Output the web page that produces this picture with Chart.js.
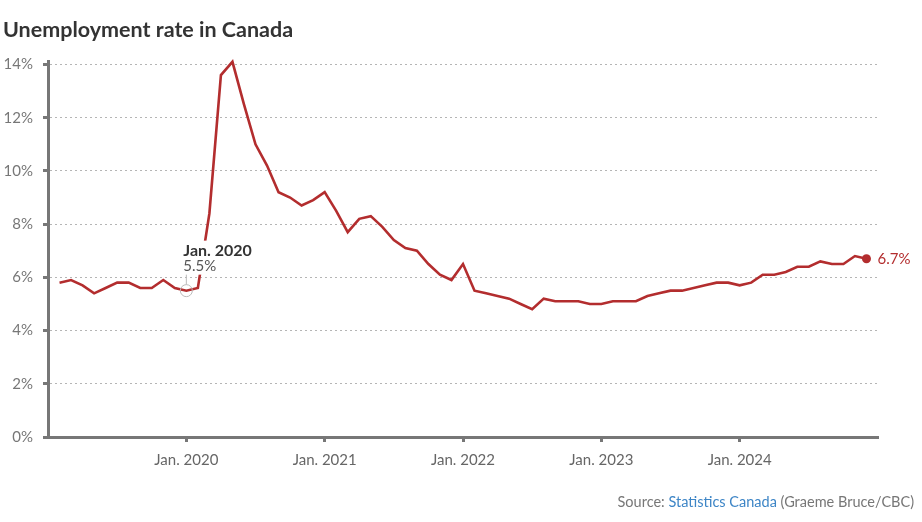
<!DOCTYPE html>
<html><head><meta charset="utf-8">
<script src="https://cdn.jsdelivr.net/npm/chart.js@4.4.1/dist/chart.umd.min.js"></script>
<style>html,body{margin:0;padding:0;background:#fff;}#wrap{width:922px;height:522px;}</style>
</head><body><div id="wrap"><canvas id="c" width="922" height="522"></canvas></div>
<script>
// ---- data ----
const titleText = 'Unemployment rate in Canada';
const months = [
  '2019-02','2019-03','2019-04','2019-05','2019-06','2019-07','2019-08','2019-09','2019-10','2019-11','2019-12',
  '2020-01','2020-02','2020-03','2020-04','2020-05','2020-06','2020-07','2020-08','2020-09','2020-10','2020-11','2020-12',
  '2021-01','2021-02','2021-03','2021-04','2021-05','2021-06','2021-07','2021-08','2021-09','2021-10','2021-11','2021-12',
  '2022-01','2022-02','2022-03','2022-04','2022-05','2022-06','2022-07','2022-08','2022-09','2022-10','2022-11','2022-12',
  '2023-01','2023-02','2023-03','2023-04','2023-05','2023-06','2023-07','2023-08','2023-09','2023-10','2023-11','2023-12',
  '2024-01','2024-02','2024-03','2024-04','2024-05','2024-06','2024-07','2024-08','2024-09','2024-10','2024-11','2024-12'
];
const rates = [
  5.8, 5.9, 5.7, 5.4, 5.6, 5.8, 5.8, 5.6, 5.6, 5.9, 5.6,
  5.5, 5.6, 8.4, 13.6, 14.1, 12.5, 11.0, 10.2, 9.2, 9.0, 8.7, 8.9,
  9.2, 8.5, 7.7, 8.2, 8.3, 7.9, 7.4, 7.1, 7.0, 6.5, 6.1, 5.9,
  6.5, 5.5, 5.4, 5.3, 5.2, 5.0, 4.8, 5.2, 5.1, 5.1, 5.1, 5.0,
  5.0, 5.1, 5.1, 5.1, 5.3, 5.4, 5.5, 5.5, 5.6, 5.7, 5.8, 5.8,
  5.7, 5.8, 6.1, 6.1, 6.2, 6.4, 6.4, 6.6, 6.5, 6.5, 6.8, 6.7
];
const axisStartMonth = '2019-01';
const axisEndMonth = '2025-01';
const xTickMonths = ['2020-01','2021-01','2022-01','2023-01','2024-01'];
const xTickLabels = ['Jan. 2020','Jan. 2021','Jan. 2022','Jan. 2023','Jan. 2024'];
const yTickValues = [0, 2, 4, 6, 8, 10, 12, 14];
const yMax = 14.1;
const annotationMonth = '2020-01';
const annotationLabel = 'Jan. 2020';
const sourceLabel = 'Source: ';
const sourceName = 'Statistics Canada';
const sourceCredit = ' (Graeme Bruce/CBC)';

// ---- helpers ----
function monthIndex(m) {
  const [y, mo] = m.split('-').map(Number);
  const [y0, m0] = axisStartMonth.split('-').map(Number);
  return (y - y0) * 12 + (mo - m0);
}
const points = months.map((m, i) => ({ x: monthIndex(m), y: rates[i] }));
const FONT = 'Lato';
const RED = '#b32d2e';
const AXIS = '#777';
const fmt = v => (Math.round(v * 10) / 10).toFixed(1) + '%';

const annotationPlugin = {
  id: 'annot',
  afterDatasetsDraw(chart) {
    const ctx = chart.ctx;
    const meta = chart.getDatasetMeta(0);
    // end label
    const last = meta.data[meta.data.length - 1];
    ctx.save();
    ctx.font = `15px ${FONT}`;
    ctx.fillStyle = RED;
    ctx.textAlign = 'left';
    ctx.textBaseline = 'middle';
    ctx.fillText(fmt(rates[rates.length - 1]), last.x + 11, last.y);
    // Jan 2020 annotation
    const idx = months.indexOf(annotationMonth);
    const p = meta.data[idx];
    const lx = p.x - 3;
    ctx.font = `bold 16px ${FONT}`;
    const w1 = ctx.measureText(annotationLabel).width;
    ctx.fillStyle = '#fff';
    ctx.fillRect(lx - 2, p.y - 50, w1 + 6, 34);
    ctx.fillStyle = '#333';
    ctx.fillText(annotationLabel, lx, p.y - 40);
    ctx.font = `15px ${FONT}`;
    ctx.fillStyle = '#555';
    ctx.fillText(fmt(rates[idx]), lx, p.y - 24);
    ctx.strokeStyle = '#bbb';
    ctx.lineWidth = 1;
    ctx.beginPath();
    ctx.moveTo(p.x, p.y - 6);
    ctx.lineTo(p.x, p.y - 16);
    ctx.stroke();
    ctx.beginPath();
    ctx.arc(p.x, p.y, 6, 0, Math.PI * 2);
    ctx.stroke();
    ctx.restore();
  },
  afterDraw(chart) {
    const ctx = chart.ctx;
    ctx.save();
    ctx.font = `14.5px ${FONT}`;
    ctx.textBaseline = 'middle';
    ctx.textAlign = 'left';
    const w1 = ctx.measureText(sourceLabel).width;
    const w2 = ctx.measureText(sourceName).width;
    const w3 = ctx.measureText(sourceCredit).width;
    let x = 914 - (w1 + w2 + w3);
    const y = 502;
    ctx.fillStyle = '#777';
    ctx.fillText(sourceLabel, x, y); x += w1;
    ctx.fillStyle = '#3d85c6';
    ctx.fillText(sourceName, x, y); x += w2;
    ctx.fillStyle = '#777';
    ctx.fillText(sourceCredit, x, y);
    ctx.restore();
  }
};

new Chart(document.getElementById('c'), {
  type: 'line',
  data: {
    datasets: [{
      data: points,
      borderColor: RED,
      backgroundColor: RED,
      borderWidth: 2.6,
      tension: 0,
      pointRadius: c => (c.dataIndex === rates.length - 1 ? 4.5 : 0),
      pointHoverRadius: 0,
      pointBorderWidth: 0,
      clip: false
    }]
  },
  options: {
    responsive: false,
    animation: false,
    devicePixelRatio: 1,
    events: [],
    layout: { padding: { left: 3, right: 44, top: 0, bottom: 45 } },
    plugins: {
      legend: { display: false },
      tooltip: { enabled: false },
      title: {
        display: true,
        text: titleText,
        align: 'start',
        color: '#333',
        font: { family: FONT, size: 21.5, weight: 'bold' },
        padding: { top: 17, bottom: 19 }
      }
    },
    scales: {
      x: {
        type: 'linear',
        min: monthIndex(axisStartMonth),
        max: monthIndex(axisEndMonth),
        afterBuildTicks: s => { s.ticks = xTickMonths.map(m => ({ value: monthIndex(m) })); },
        afterFit: s => { s.height = 40; },
        ticks: {
          autoSkip: false,
          maxRotation: 0,
          padding: 9,
          color: '#666',
          font: { family: FONT, size: 15 },
          callback: v => xTickLabels[xTickMonths.findIndex(m => monthIndex(m) === v)]
        },
        grid: {
          drawOnChartArea: false,
          drawTicks: true,
          tickLength: 5,
          tickWidth: 3,
          tickColor: AXIS
        },
        border: { display: true, color: AXIS, width: 3 }
      },
      y: {
        min: 0,
        max: yMax,
        afterBuildTicks: s => { s.ticks = yTickValues.map(v => ({ value: v })); },
        afterFit: s => { s.width = 45; },
        ticks: {
          padding: 10,
          color: AXIS,
          font: { family: FONT, size: 15 },
          callback: v => v + '%'
        },
        grid: {
          color: '#b5b5b5',
          lineWidth: 1,
          drawTicks: true,
          tickLength: 5,
          tickWidth: 3,
          tickColor: AXIS,
          tickBorderDash: []
        },
        border: { display: true, color: AXIS, width: 3, dash: [2, 3] }
      }
    }
  },
  plugins: [annotationPlugin]
});
</script></body></html>
